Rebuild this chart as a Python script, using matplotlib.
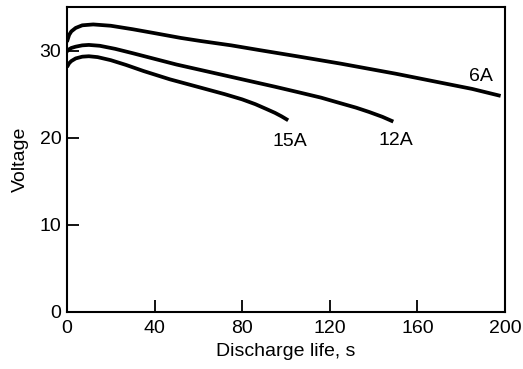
import matplotlib
matplotlib.use("Agg")
from matplotlib import pyplot

pyplot.rcParams["font.family"] = ["Liberation Sans", "DejaVu Sans"]

# discharge curves (time in s, voltage in V)
t_6a = [0, 1, 2, 4, 7, 12, 20, 30, 40, 52, 61, 75, 88, 105, 125, 150, 170, 185, 198]
v_6a = [31.0, 31.8, 32.2, 32.6, 32.9, 33.0, 32.85, 32.45, 32.0, 31.45, 31.1, 30.6, 30.05, 29.35, 28.5, 27.35, 26.35, 25.6, 24.8]

t_12a = [0, 1, 2, 4, 7, 10, 15, 22, 30, 40, 50, 65, 80, 95, 106, 116, 125, 132, 138, 144, 149]
v_12a = [29.9, 30.15, 30.3, 30.45, 30.6, 30.65, 30.55, 30.2, 29.7, 29.05, 28.4, 27.55, 26.7, 25.85, 25.2, 24.6, 23.95, 23.45, 22.95, 22.4, 21.85]

t_15a = [0, 1, 2, 4, 7, 10, 14, 20, 27, 35, 47, 61, 72, 80, 86, 91, 95, 98, 101]
v_15a = [28.1, 28.55, 28.8, 29.1, 29.3, 29.35, 29.25, 28.9, 28.35, 27.65, 26.7, 25.75, 25.0, 24.4, 23.85, 23.3, 22.85, 22.45, 22.0]

curve_labels = ["6A", "12A", "15A"]
label_pos = [(189, 27.0), (150, 19.7), (102, 19.6)]

fig = pyplot.figure(figsize=(5.23, 3.69), dpi=100)
ax = fig.add_axes([0.128, 0.1545, 0.8376, 0.8265])

for t, v in [(t_6a, v_6a), (t_12a, v_12a), (t_15a, v_15a)]:
    ax.plot(t, v, color="black", linewidth=2.7, solid_capstyle="butt",
            solid_joinstyle="round")

for name, (x, y) in zip(curve_labels, label_pos):
    ax.text(x, y, name, fontsize=14, ha="center", va="center")

ax.set_xlim(0, 200)
ax.set_ylim(0, 35)
ax.set_xticks([0, 40, 80, 120, 160, 200])
ax.set_yticks([0, 10, 20, 30])
ax.tick_params(direction="in", length=8.5, width=1.3, labelsize=14)
ax.tick_params(axis="x", pad=6)
ax.tick_params(axis="y", pad=4)
for sp in ax.spines.values():
    sp.set_linewidth(1.5)

ax.set_xlabel("Discharge life, s", fontsize=14, labelpad=4)
ax.set_ylabel("Voltage", fontsize=14, labelpad=8)

fig.savefig("out.png", dpi=100)
